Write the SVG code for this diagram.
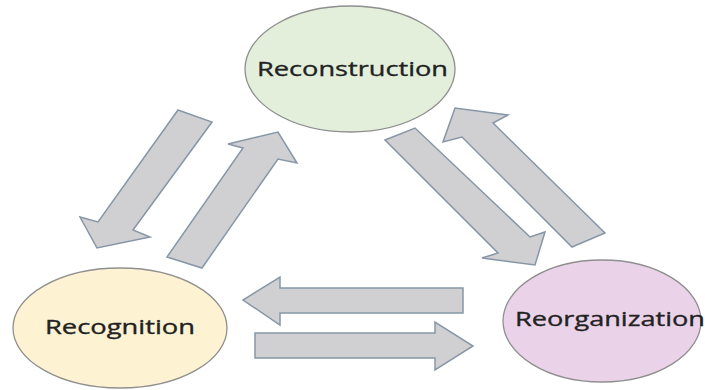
<svg xmlns="http://www.w3.org/2000/svg" width="705" height="390" viewBox="0 0 705 390">
  <style>
    .node { stroke: #8f8f8f; stroke-width: 1.3; }
    .label { font-family: "Open Sans", "Liberation Sans", sans-serif; font-size: 20px; fill: #222222; stroke: #222222; stroke-width: 0.35; }
    .arrow { fill: #d0d0d3; stroke: #8796a6; stroke-width: 1.5; stroke-linejoin: miter; }
  </style>
  <rect width="705" height="390" fill="#ffffff"/>

  <g id="connectors">
    <!-- Reconstruction to Recognition -->
    <polygon class="arrow" points="178,110 212,122 133,230 150,237 97,248 80,217 98,222"/>
    <!-- Recognition to Reconstruction -->
    <polygon class="arrow" points="167,257 202,268 278,159 297,163 278,132 228,144 243,148"/>
    <!-- Reconstruction to Reorganization -->
    <polygon class="arrow" points="385,140 415,128 530,237 545,232 535,265 482,258 498,253"/>
    <!-- Reorganization to Reconstruction -->
    <polygon class="arrow" points="572,247 605,233 493,123 508,115 455,108 443,142 462,137"/>
    <!-- Reorganization to Recognition -->
    <polygon class="arrow" points="463,288 463,313 280,313 280,325 243,300 280,277 280,288"/>
    <!-- Recognition to Reorganization -->
    <polygon class="arrow" points="255,333 435,333 435,322 473,346 435,370 435,358 255,358"/>
  </g>

  <g id="reconstruction">
    <ellipse class="node" cx="350" cy="69" rx="105" ry="63" fill="#e3efda"/>
    <text class="label" x="257" y="76" textLength="191" lengthAdjust="spacingAndGlyphs">Reconstruction</text>
  </g>

  <g id="recognition">
    <ellipse class="node" cx="120" cy="328" rx="107" ry="60" fill="#fdf2d2"/>
    <text class="label" x="45" y="334" textLength="150" lengthAdjust="spacingAndGlyphs">Recognition</text>
  </g>

  <g id="reorganization">
    <ellipse class="node" cx="602" cy="321" rx="99" ry="61" fill="#ead2e8"/>
    <text class="label" x="515" y="326" textLength="190" lengthAdjust="spacingAndGlyphs">Reorganization</text>
  </g>
</svg>
